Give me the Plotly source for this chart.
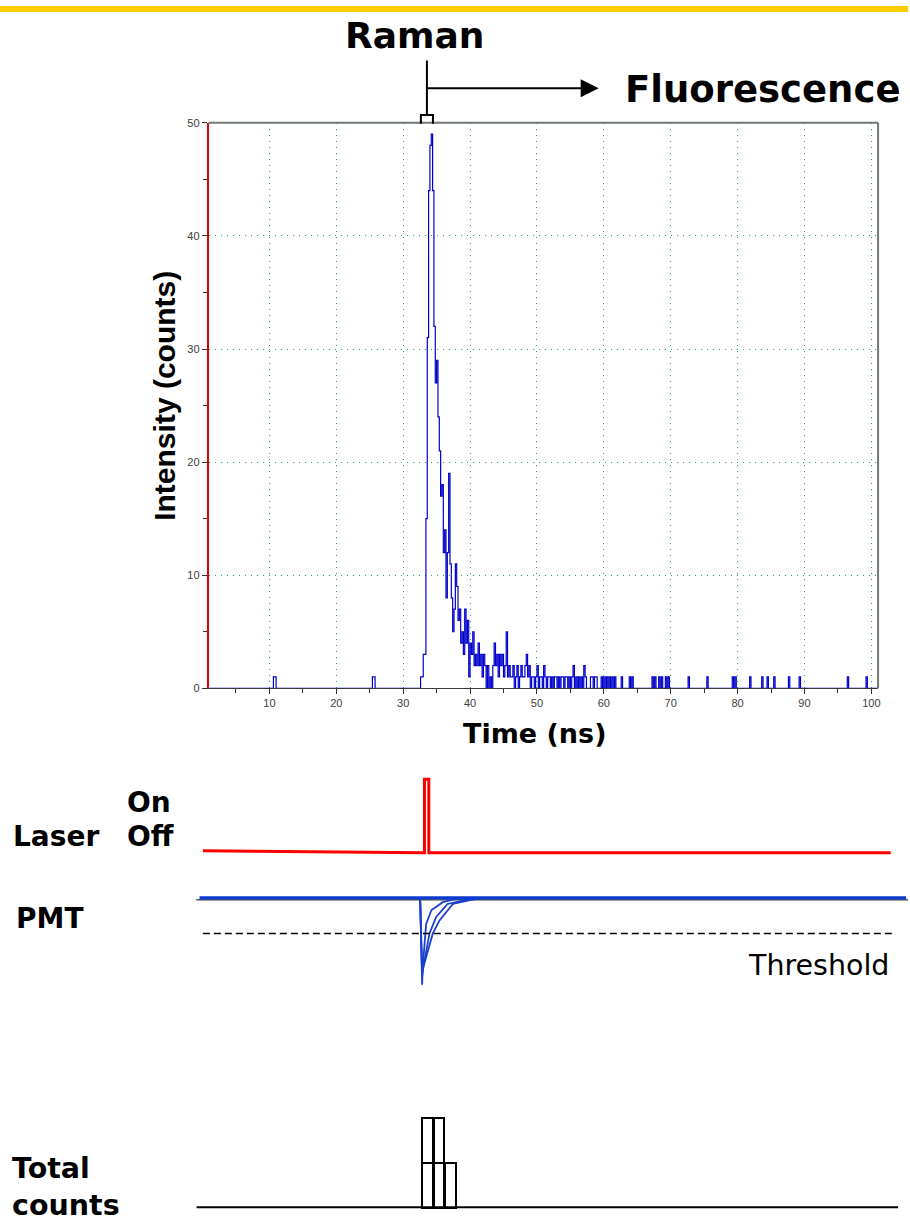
import numpy as np
import plotly.graph_objects as go

# ---------------- data ----------------
# time-resolved photon counting histogram (0.2 ns channels)
dense_start_ns = 32.4
dense_step_ns = 0.2
dense_counts = [
    0, 1, 1, 3, 3, 15, 31, 44, 48, 49,      # 32.4 - 34.2
    44, 32, 27, 29, 24, 21, 17, 18, 12, 14,  # 34.4 - 36.2
    8, 12, 19, 11, 8, 5, 7, 11, 9, 6,        # 36.4 - 38.2
    7, 4, 5, 3, 7, 4, 6, 1, 4, 3,            # 38.4 - 40.2
    5, 2, 3, 2, 4, 2, 3, 1, 3, 2,            # 40.4 - 42.2
    0, 2, 0, 1, 0, 2, 4, 2, 3, 1,            # 42.4 - 44.2
    3, 2, 3, 1, 2, 5, 1, 2, 1, 1,            # 44.4 - 46.2
    2, 0, 1, 2, 0, 1, 2, 1, 1, 2,            # 46.4 - 48.2
    3, 1, 2, 0, 1, 1, 0, 1, 2, 0,            # 48.4 - 50.2
    1, 1, 0, 2, 1, 0, 1, 1, 0, 1,            # 50.4 - 52.2
    0, 1, 1, 0, 1, 0, 1, 1, 0, 1,            # 52.4 - 54.2
    1, 0, 1, 0, 1, 2, 0, 1, 0, 1,            # 54.4 - 56.2
    0, 1, 0, 2, 1, 0, 0, 0, 1, 1,            # 56.4 - 58.2
    0, 1, 1, 0, 0, 0, 1, 0, 1,               # 58.4 - 60.0
]
spike_ns = [10.6, 10.8, 25.4, 25.6, 60.4, 60.8, 61.2, 61.6, 62.6, 63.8, 64.2,
            67.2, 67.6, 68.2, 68.6, 69.2, 69.6, 72.6, 75.4, 79.2, 79.6, 81.8,
            83.6, 84.4, 85.4, 87.6, 89.2, 96.4, 99.2]
spike_counts = [1, 1, 1, 1, 1, 1, 1, 1, 1, 1, 1,
                1, 1, 1, 1, 1, 1, 1, 1, 1, 1, 1,
                1, 1, 1, 1, 1, 1, 1]

x_major_ticks = [10, 20, 30, 40, 50, 60, 70, 80, 90, 100]
y_major_ticks = [0, 10, 20, 30, 40, 50]

raman_window_ns = [32.65, 34.45]

# laser trigger (Off = 0, On = 1)
laser_ns = [0.0, 33.15, 33.15, 33.8, 33.8, 102.9]
laser_state = [0.027, 0, 1, 1, 0, 0]

# PMT output (arbitrary volts, negative pulses)
pmt_base_ns = [-0.5, 105.2]
pmt_base_v = [0, 0]
pmt_ref_ns = [-1.0, 106.0]
pmt_ref_v = [-0.023, -0.023]
pmt_pulse1_ns = [32.5, 32.8, 32.9, 33.4, 34.2, 35.9, 38.5]
pmt_pulse1_v = [0, -1.0, -0.79, -0.30, -0.14, -0.05, 0]
pmt_pulse2_ns = [32.5, 32.8, 33.0, 33.9, 34.9, 36.6, 39.5, 42.0]
pmt_pulse2_v = [0, -0.9, -0.79, -0.41, -0.22, -0.07, -0.02, 0]
pmt_pulse3_ns = [32.5, 32.8, 33.15, 34.4, 35.4, 37.4, 40.3, 42.5]
pmt_pulse3_v = [0, -0.85, -0.75, -0.41, -0.26, -0.07, -0.02, 0]
threshold_ns = [0.0, 103.2]
threshold_v = [-0.41, -0.41]

# total counts histogram
count_bin_ns = [33.55, 35.25, 36.95]
photon_counts = [2, 2, 1]
count_bin_width = 1.6
count_base_ns = [-0.94, 104.0]
count_base_v = [0, 0]

# ---------------- helpers ----------------
W, H = 910, 1228
def px(x):
    return x / W
def py(y):
    return 1 - y / H

BOLD = "DejaVu Sans"
ARIAL = "Liberation Sans, Arial, sans-serif"

# build histogram on channel grid
grid = np.round(np.arange(1.0, 101.0001, dense_step_ns), 1)
counts = np.zeros_like(grid)
index = {v: i for i, v in enumerate(grid)}
for k, c in enumerate(dense_counts):
    t = round(dense_start_ns + k * dense_step_ns, 1)
    counts[index[t]] = c
for t, c in zip(spike_ns, spike_counts):
    counts[index[round(t, 1)]] = c

fig = go.Figure()

fig.add_trace(go.Scatter(x=grid, y=counts, mode="lines", line_shape="hv",
                         line=dict(color="#0000cc", width=1.2),
                         xaxis="x", yaxis="y", hoverinfo="skip"))

# laser
fig.add_trace(go.Scatter(x=laser_ns, y=laser_state, mode="lines",
                         line=dict(color="#ff0000", width=3),
                         xaxis="x2", yaxis="y3"))
# PMT
fig.add_trace(go.Scatter(x=pmt_ref_ns, y=pmt_ref_v, mode="lines",
                         line=dict(color="#000000", width=1),
                         xaxis="x2", yaxis="y4"))
for tx, vy in [(pmt_pulse1_ns, pmt_pulse1_v), (pmt_pulse2_ns, pmt_pulse2_v),
               (pmt_pulse3_ns, pmt_pulse3_v)]:
    fig.add_trace(go.Scatter(x=tx, y=vy, mode="lines",
                             line=dict(color="#1a3fcf", width=1.8),
                             xaxis="x2", yaxis="y4"))
fig.add_trace(go.Scatter(x=pmt_base_ns, y=pmt_base_v, mode="lines",
                         line=dict(color="#0b3bd0", width=3.2),
                         xaxis="x2", yaxis="y4"))
fig.add_trace(go.Scatter(x=threshold_ns, y=threshold_v, mode="lines",
                         line=dict(color="#000000", width=1.6, dash="7px,4px"),
                         xaxis="x2", yaxis="y4"))

# total counts
fig.add_trace(go.Scatter(x=count_base_ns, y=count_base_v, mode="lines",
                         line=dict(color="#000000", width=2),
                         xaxis="x2", yaxis="y5"))
max_count = max(photon_counts)
for level in range(1, max_count + 1):
    layer = [1 if c >= level else None for c in photon_counts]
    fig.add_trace(go.Bar(x=count_bin_ns, y=layer, width=count_bin_width,
                         marker=dict(color="white", line=dict(color="black", width=2)),
                         xaxis="x2", yaxis="y5"))

tickfont = dict(family=ARIAL, size=11, color="#404040")

fig.update_layout(
    width=W, height=H, margin=dict(l=0, r=0, t=0, b=0),
    paper_bgcolor="white", plot_bgcolor="white",
    showlegend=False, barmode="stack", bargap=0,
    xaxis=dict(domain=[px(209), px(880)], range=[0.9, 101.0], anchor="y",
               tickmode="array", tickvals=x_major_ticks, ticks="outside",
               ticklen=5, tickcolor="#333333", tickfont=tickfont,
               showline=True, linecolor="#3a3a3a", linewidth=1,
               showgrid=True, gridcolor="#2f9a9a", griddash="1px,5px", gridwidth=1,
               minor=dict(dtick=10, tick0=5, ticks="outside", ticklen=4,
                          tickcolor="#333333", showgrid=False),
               zeroline=False),
    yaxis=dict(domain=[py(689), py(118)], range=[0, 50], anchor="x",
               tickmode="array", tickvals=y_major_ticks, ticks="outside",
               ticklen=5, tickcolor="#333333", tickfont=tickfont,
               showline=True, linecolor="#dd0000", linewidth=1.5,
               showgrid=True, gridcolor="#2f9a9a", griddash="1px,5px", gridwidth=1,
               minor=dict(dtick=10, tick0=5, ticks="outside", ticklen=4,
                          tickcolor="#333333", showgrid=False),
               zeroline=False),
    xaxis2=dict(domain=[px(190), px(910)], range=[-1.985, 105.48], anchor="y3",
                visible=False),
    yaxis3=dict(domain=[py(862.4), py(773.6)], range=[-0.1, 1.1], anchor="x2",
                visible=False),
    yaxis4=dict(domain=[py(997.1), py(891.9)], range=[-1.1, 0.1], anchor="x2",
                visible=False),
    yaxis5=dict(domain=[py(1217.6), py(1117.5)], range=[-0.1, 2.1], anchor="x2",
                visible=False),
)

shapes = [
    # yellow banner
    dict(type="rect", xref="paper", yref="paper", x0=0, x1=1, y0=py(6), y1=1,
         fillcolor="#ffcc00", line=dict(width=0), layer="above"),
    # plot frame top / right
    dict(type="line", xref="x domain", yref="y domain", x0=0, x1=1, y0=1, y1=1,
         line=dict(color="#707a70", width=2)),
    dict(type="line", xref="x domain", yref="y domain", x0=1, x1=1, y0=0, y1=1,
         line=dict(color="#707a70", width=2)),
    # Raman bracket
    dict(type="path", xref="x", yref="paper",
         path=f"M {raman_window_ns[0]} {py(119)} L {raman_window_ns[0]} {py(110)} "
              f"L {raman_window_ns[1]} {py(110)} L {raman_window_ns[1]} {py(119)}",
         line=dict(color="black", width=2)),
    # Raman stem
    dict(type="line", xref="x", yref="paper",
         x0=sum(raman_window_ns) / 2, x1=sum(raman_window_ns) / 2,
         y0=py(110), y1=py(55), line=dict(color="black", width=2)),
]
fig.update_layout(shapes=shapes)

stem_px = 209 + (sum(raman_window_ns) / 2 - 0.9) / (101.0 - 0.9) * 671

ann = []
def text(t, x, y, size, family=BOLD, bold=True, xanchor="center", angle=0):
    ann.append(dict(text=f"<b>{t}</b>" if bold else t, x=px(x), y=py(y),
                    xref="paper", yref="paper", showarrow=False,
                    xanchor=xanchor, yanchor="middle", textangle=angle,
                    font=dict(family=family, size=size, color="black")))

text("Raman", 415, 30, 36)
text("Fluorescence", 764, 84, 37)
text("Intensity (counts)", 165, 394, 30, family=ARIAL, angle=-90)
text("Time (ns)", 536, 735, 27)
text("On", 125, 804, 28, xanchor="left")
text("Off", 125, 839, 28, xanchor="left")
text("Laser", 11, 839, 28, xanchor="left")
text("PMT", 14, 922, 28, xanchor="left")
text("Threshold", 893, 969, 28.5, bold=False, xanchor="right")
text("Total", 10, 1174, 28.5, xanchor="left")
text("counts", 10, 1211, 28.5, xanchor="left")

# fluorescence arrow
ann.append(dict(x=px(600), y=py(83), xref="paper", yref="paper",
                ax=stem_px - 600, ay=0, text="", showarrow=True,
                arrowhead=2, arrowsize=1.8, arrowwidth=2, arrowcolor="black"))
fig.update_layout(annotations=ann)

fig.write_html("out.html", config={"displayModeBar": False},
               post_script="document.body.style.margin='0';document.body.style.padding='0';")
